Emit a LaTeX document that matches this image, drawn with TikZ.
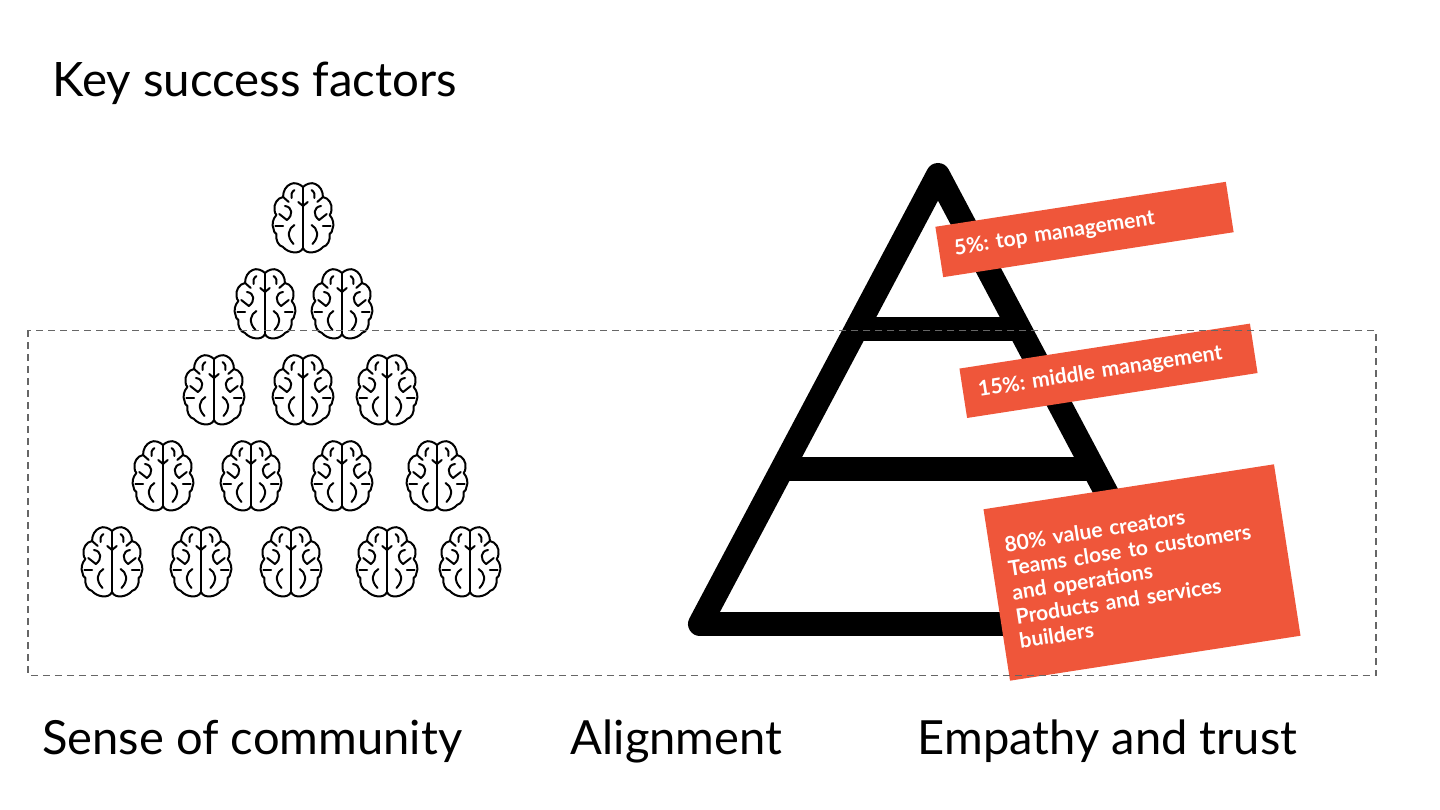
\documentclass[tikz,border=0pt]{standalone}
\usepackage{fontspec}
\setmainfont{Lato}
\usepackage{xcolor}
\definecolor{tagred}{HTML}{EF563A}
\usetikzlibrary{positioning}

\newcommand{\brainhalf}{
  \draw (0,-31) .. controls (3,-34) and (9,-36) .. (13,-34) .. controls (18,-32) and (21,-27) .. (21,-21)
    .. controls (27,-20) and (31,-14) .. (30,-8) .. controls (30,-6) and (29,-4) .. (28,-3)
    .. controls (32,1) and (33,7) .. (31,11) .. controls (31,13) and (30,15) .. (28,16)
    .. controls (29,22) and (26,28) .. (21,29) .. controls (16,35) and (3,37) .. (0,30);
  \draw (0,-12) -- (5,-16);
  \draw (9,-28) .. controls (12,-26) and (13,-23) .. (12,-20);
  \draw (21,-21) -- (15,-16);
  \draw (19,-12) .. controls (11,-11) and (10,-3) .. (17,2);
  \draw (25,-4) -- (17,2);
  \draw (21,8) -- (29,8);
  \draw (9,7) .. controls (15,10) and (18,18) .. (10,26);
}

\begin{document}
\begin{tikzpicture}[
  x=0.02cm, y=-0.02cm,
  heading/.style={font=\fontsize{26.8}{32}\selectfont, inner sep=0pt, anchor=base west},
  tagbox/.style={fill=tagred, text=white, rotate=8.8, minimum width=5.88cm, text width=5.26cm, align=left,
    font=\frenchspacing\bfseries\fontsize{12}{13.9}\selectfont},
  pyramid/.style={line width=0.48cm, line join=round, line cap=round},
  pics/brain/.style={code={
    \begin{scope}[xscale=0.95, line width=0.04cm, line cap=round, line join=round]
      \draw (0,-31) -- (0,30);
      \brainhalf
      \begin{scope}[xscale=-1]\brainhalf\end{scope}
    \end{scope}
  }}
]
\useasboundingbox (0,0) rectangle (1440,810);

\node[heading, font=\fontsize{27}{32}\selectfont] (title) at (52,97) {Key success factors};

% brains, row by row
\foreach \x/\y in {303/218, 265/304, 342/304, 214/390, 303/390, 387/390,
                   163/476, 251/476, 342/476, 437/476,
                   112/562, 201/562, 291/562, 387/562, 470/562}
  \pic at (\x,\y) {brain};

% pyramid
\draw[pyramid] (938,175) -- (700,624) -- (1176,624) -- cycle;
\draw[pyramid, line cap=butt] (857,329.5) -- (1019,329.5);
\draw[pyramid, line cap=butt] (783,469) -- (1093,469);

\node[tagbox, minimum height=1.02cm] (top) at (1084.5,229.5) {5\%: top management};
\node[tagbox, minimum height=1.0cm] (middle) at (1108.5,370.8) {15\%: middle management};
\node[tagbox, minimum height=3.47cm] (base) at (1142,572.5) {80\% value creators\\Teams close to customers\\and operations\\Products and services\\builders};

\draw[gray!80!black, dash pattern=on 0.14cm off 0.1cm, line width=0.03cm] (28,330.5) rectangle (1376,675.5);

\node[heading] (community) at (42,754) {Sense of community};
\node[heading, base right=2.16cm of community] (alignment) {Alignment};
\node[heading, base right=2.7cm of alignment] (empathy) {Empathy and trust};
\end{tikzpicture}
\end{document}
